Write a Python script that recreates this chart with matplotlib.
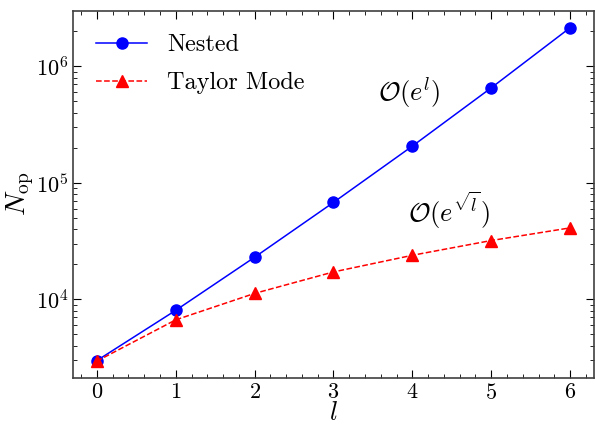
import numpy as np
import matplotlib
matplotlib.use("Agg")
import matplotlib.pyplot as plt
from matplotlib.ticker import MultipleLocator

plt.rcParams['font.family'] = 'serif'
plt.rcParams['font.serif'] = ['cmr10']
plt.rcParams['mathtext.fontset'] = 'cm'
plt.rcParams['axes.formatter.use_mathtext'] = True
plt.rcParams['axes.unicode_minus'] = False

# data
levels = [0, 1, 2, 3, 4, 5, 6]
nested = [2980, 8050, 23000, 68000, 207000, 655000, 2150000]
taylor = [2950, 6670, 11250, 17200, 23900, 32000, 41100]

fig, ax = plt.subplots(figsize=(5.95, 4.24), dpi=100)
fig.subplots_adjust(left=0.123, right=0.998, top=0.974, bottom=0.109)

ax.plot(levels, nested, '-o', color='blue', lw=1.1, ms=8, label='Nested')
ax.plot(levels, taylor, '--^', color='red', lw=1.1, ms=8, label='Taylor Mode')
ax.set_yscale('log')

ax.set_xlabel(r'$l$', fontsize=19, labelpad=-1)
ax.set_ylabel(r'$N_{\mathrm{op}}$', fontsize=20, labelpad=0)

ax.xaxis.set_major_locator(MultipleLocator(1))
ax.xaxis.set_minor_locator(MultipleLocator(0.2))
ax.tick_params(which='both', direction='in', top=True, right=True, labelsize=16)
ax.tick_params(which='major', length=6)
ax.tick_params(which='minor', length=3)
for s in ax.spines.values():
    s.set_color('#404040')
    s.set_linewidth(1.2)

ax.text(3.96, 5.97e5, r'$\mathcal{O}(e^l)$', fontsize=19, ha='center', va='center')
ax.text(4.47, 5.8e4, r'$\mathcal{O}(e^{\sqrt{l}})$', fontsize=19, ha='center', va='center')

ax.legend(loc='upper left', frameon=False, fontsize=17.5, handlelength=2.1,
          borderaxespad=0.55, labelspacing=0.65)

fig.savefig('out.png', dpi=100)
